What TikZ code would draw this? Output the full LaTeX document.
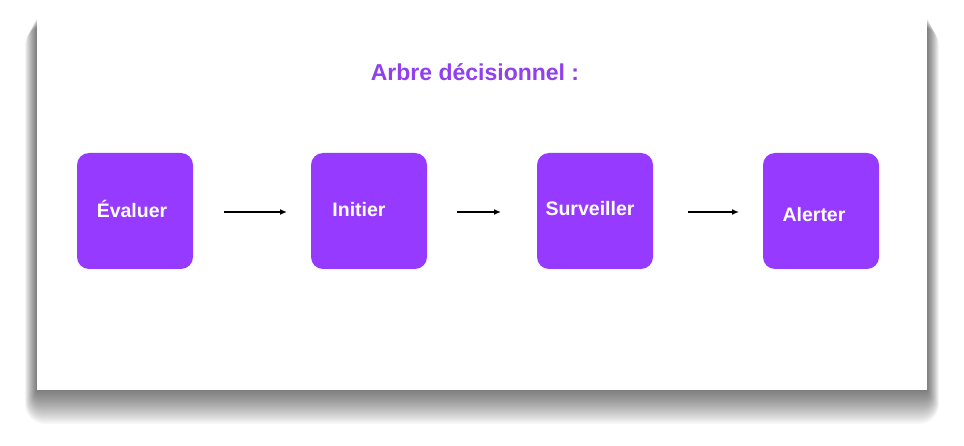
\documentclass[tikz,border=0pt]{standalone}
\usepackage{fontspec}
\setmainfont{Liberation Sans}
\definecolor{boxp}{RGB}{150,58,255}
\definecolor{titlep}{RGB}{145,64,235}
\begin{document}
\begin{tikzpicture}[x=1pt,y=-1pt,
  stepbox/.style={fill=boxp,rounded corners=12pt,minimum width=116pt,minimum height=116pt,inner sep=0pt},
  lbl/.style={text=white,font=\bfseries\fontsize{19.5}{22}\selectfont},
  arr/.style={-{Latex[length=7pt,width=6pt]},line width=1.6pt,black}]
\usetikzlibrary{arrows.meta}
\useasboundingbox (0,0) rectangle (964,446);
\fill[white] (0,0) rectangle (964,446);
\foreach \i in {1,...,20}{
  \fill[black,opacity=0.03,rounded corners=\i pt] (37-\i*0.6,18+\i*0.4) rectangle (927+\i*0.6,390+\i*1.7);
}
\fill[white] (37,18) rectangle (927,390);
\node[text=titlep,font=\bfseries\fontsize{23}{26}\selectfont] (title) at (475,72) {Arbre décisionnel :};
\node[stepbox] (a) at (135,211) {};
\node[stepbox] (b) at (369,211) {};
\node[stepbox] (c) at (595,211) {};
\node[stepbox] (d) at (821,211) {};
\node[lbl] (ta) at (132,209) {Évaluer};
\node[lbl] (tb) at (359,210) {Initier};
\node[lbl] (tc) at (590,209) {Surveiller};
\node[lbl] (td) at (814,215) {Alerter};
\coordinate (a1) at (224,212); \coordinate (a2) at (287,212);
\coordinate (b1) at (457,212); \coordinate (b2) at (501,212);
\coordinate (c1) at (688,212); \coordinate (c2) at (739,212);
\draw[arr] (a1) -- (a2);
\draw[arr] (b1) -- (b2);
\draw[arr] (c1) -- (c2);
\end{tikzpicture}
\end{document}
